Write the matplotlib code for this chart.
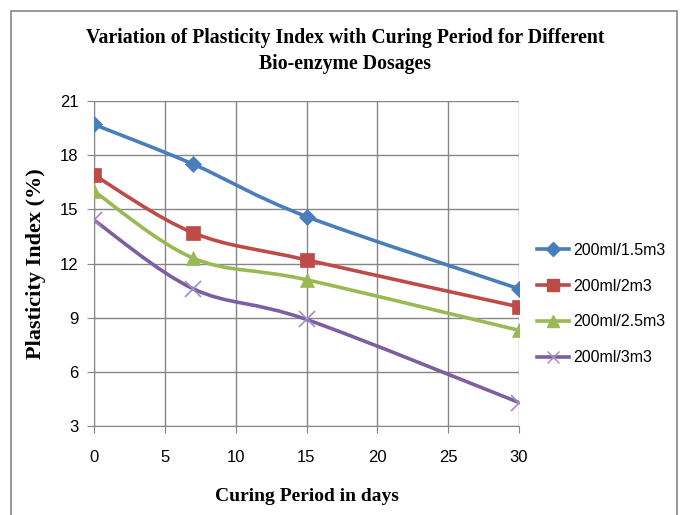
import numpy as np
import matplotlib.pyplot as plt
from matplotlib.path import Path
from matplotlib.patches import PathPatch, Rectangle
from matplotlib.lines import Line2D

days = [0, 7, 15, 30]
pi_15 = [19.7, 17.5, 14.6, 10.6]
pi_2 = [16.9, 13.7, 12.2, 9.6]
pi_25 = [16.0, 12.3, 11.1, 8.3]
pi_3 = [14.4, 10.6, 8.9, 4.3]
labels = ["200ml/1.5m3", "200ml/2m3", "200ml/2.5m3", "200ml/3m3"]

series = [pi_15, pi_2, pi_25, pi_3]
colors = ["#4A7EBB", "#BE4B48", "#98B954", "#7D5FA0"]
mcolors = ["#4A7EBB", "#BE4B48", "#98B954", "#A08CC8"]
markers = ["D", "s", "^", "x"]
msizes = [8, 10, 10, 11]

serif = ["Liberation Serif", "DejaVu Serif"]
sans = ["Liberation Sans Narrow", "Liberation Sans", "DejaVu Sans"]


def smooth_path(xs, ys, t=1 / 6):
    # Bezier path through the points, like Excel's smoothed line
    pts = np.column_stack([xs, ys]).astype(float)
    verts = [pts[0]]
    codes = [Path.MOVETO]
    n = len(pts)
    for i in range(n - 1):
        p0 = pts[i - 1] if i > 0 else pts[i]
        p1 = pts[i]
        p2 = pts[i + 1]
        p3 = pts[i + 2] if i + 2 < n else pts[i + 1]
        c1 = p1 + (p2 - p0) * t
        c2 = p2 - (p3 - p1) * t
        verts += [c1, c2, p2]
        codes += [Path.CURVE4] * 3
    return Path(verts, codes)


fig = plt.figure(figsize=(6.81, 5.15), dpi=100)
fig.patches.append(Rectangle((11 / 681, -0.1), 666 / 681, 1.1 - 11 / 515,
                             transform=fig.transFigure, fill=False,
                             edgecolor="#868686", linewidth=1.2))

ax = fig.add_axes([94 / 681, 1 - 426 / 515, 425 / 681, 325 / 515])

handles = []
for ys, c, mc, m, ms, lab in zip(series, colors, mcolors, markers, msizes, labels):
    ax.add_patch(PathPatch(smooth_path(days, ys), fill=False, edgecolor=c,
                           linewidth=2.6, zorder=3, capstyle="round"))
    ax.plot(days, ys, linestyle="none", marker=m, markersize=ms, color=mc,
            markeredgewidth=1.2 if m == "x" else 0.5, zorder=4)
    handles.append(Line2D([], [], color=c, linewidth=2.6, marker=m,
                          markersize=ms * 0.85, markerfacecolor=mc,
                          markeredgecolor=mc))

ax.set_xlim(0, 30)
ax.set_ylim(3, 21)
ax.set_xticks(range(0, 31, 5))
ax.set_yticks(range(3, 22, 3))
ax.grid(True, color="#868686", linewidth=1.0)
ax.set_axisbelow(True)
for s in ["top", "right"]:
    ax.spines[s].set_visible(False)
for s in ["left", "bottom"]:
    ax.spines[s].set_color("#868686")
ax.tick_params(direction="out", length=5, color="#868686", labelsize=12,
               pad=12)
ax.tick_params(axis="y", pad=6)
for lab in ax.get_xticklabels() + ax.get_yticklabels():
    lab.set_family(sans)

ax.set_xlabel("Curing Period in days", fontsize=14, fontweight="bold",
              family=serif, labelpad=17)
ax.set_ylabel("Plasticity Index (%)", fontsize=16, fontweight="bold",
              family=serif, labelpad=10)

fig.text(345 / 681, 1 - 51 / 515,
         "Variation of Plasticity Index with Curing Period for Different\nBio-enzyme Dosages",
         ha="center", va="center", fontsize=14.2, fontweight="bold",
         family=serif, linespacing=1.45)

leg = fig.legend(handles=handles, labels=labels, loc="center left",
                 bbox_to_anchor=(523 / 681, 1 - 304 / 515), frameon=False,
                 prop={"family": sans, "size": 11.5}, handlelength=2.0,
                 labelspacing=1.3, handletextpad=0.25)

fig.savefig("out.png", dpi=100)
